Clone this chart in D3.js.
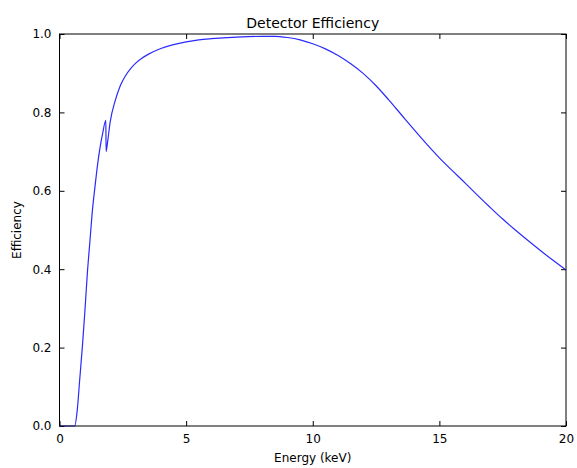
<!DOCTYPE html>
<html>
<head>
<meta charset="utf-8">
<script src="https://cdn.jsdelivr.net/npm/d3@7"></script>
<style>
	body { margin: 0; background: #fff; }
	svg text { font-family: "DejaVu Sans", sans-serif; fill: #000; }
	.domain { display: none; }
</style>
</head>
<body>
<div id="chart"></div>
<script>
// energy (keV) and detector efficiency
const energy = [0, 0.5, 0.6, 0.7, 0.8, 0.9, 1.0, 1.1, 1.2, 1.3, 1.4, 1.5, 1.6, 1.7, 1.83, 1.84, 1.9, 2.0, 2.2, 2.4, 2.6, 2.8, 3.0, 3.25, 3.5, 4.0, 4.5, 5.0, 5.5, 6.0, 7.0, 8.0, 8.5, 9.0, 9.5, 10.0, 10.5, 11.0, 11.5, 12.0, 12.5, 13.0, 13.5, 14.0, 14.5, 15.0, 15.5, 16.0, 16.5, 17.0, 17.5, 18.0, 18.5, 19.0, 19.5, 20.0],
	efficiency = [0, 0, 0, 0.04, 0.12, 0.2, 0.29, 0.39, 0.47, 0.55, 0.61, 0.665, 0.71, 0.745, 0.78, 0.70, 0.725, 0.775, 0.83, 0.868, 0.893, 0.911, 0.925, 0.938, 0.948, 0.963, 0.973, 0.98, 0.985, 0.988, 0.992, 0.994, 0.994, 0.991, 0.985, 0.975, 0.962, 0.945, 0.924, 0.899, 0.868, 0.832, 0.794, 0.756, 0.719, 0.684, 0.652, 0.621, 0.589, 0.558, 0.528, 0.5, 0.473, 0.447, 0.422, 0.398];

const xTicks = [0, 5, 10, 15, 20],
	yTicks = [0, 0.2, 0.4, 0.6, 0.8, 1.0];

var margin = {top: 34, right: 11, bottom: 42, left: 59.5},
	width = 577 - margin.left - margin.right,
	height = 468 - margin.top - margin.bottom;

var x = d3.scaleLinear().domain([0, 20]).range([0, width]);
var y = d3.scaleLinear().domain([0, 1]).range([height, 0]);

var svg = d3.select("#chart").append("svg")
	.attr("width", 577)
	.attr("height", 468);

var chart = svg.append("g")
	.attr("transform", "translate(" + margin.left + "," + margin.top + ")");

// matplotlib style: ticks pointing inward on every side
function styleAxis(g) {
	g.selectAll(".tick line").attr("stroke", "#000");
	g.selectAll(".tick text").style("font-size", "12px");
}

chart.append("g")
	.attr("transform", "translate(0," + height + ")")
	.call(d3.axisBottom(x).tickValues(xTicks).tickFormat(d3.format("d")).tickSizeInner(-5).tickPadding(8))
	.call(styleAxis);

chart.append("g")
	.call(d3.axisTop(x).tickValues(xTicks).tickSizeInner(-5).tickFormat(""))
	.call(styleAxis);

chart.append("g")
	.call(d3.axisLeft(y).tickValues(yTicks).tickFormat(d3.format(".1f")).tickSizeInner(-5).tickPadding(8))
	.call(styleAxis);

chart.append("g")
	.attr("transform", "translate(" + width + ",0)")
	.call(d3.axisRight(y).tickValues(yTicks).tickSizeInner(-5).tickFormat(""))
	.call(styleAxis);

var data = energy.map((e, i) => ({e: e, v: efficiency[i]}));

var line = d3.line()
	.x(d => x(d.e))
	.y(d => y(d.v))
	.curve(d3.curveMonotoneX);

chart.append("path")
	.datum(data)
	.attr("fill", "none")
	.attr("stroke", "#2a2aff")
	.attr("stroke-width", 1.2)
	.attr("d", line);

// frame
chart.append("rect")
	.attr("width", width)
	.attr("height", height)
	.attr("fill", "none")
	.attr("stroke", "#000")
	.attr("stroke-width", 1);

chart.append("text")
	.attr("x", width / 2)
	.attr("y", -6)
	.attr("text-anchor", "middle")
	.style("font-size", "14px")
	.text("Detector Efficiency");

chart.append("text")
	.attr("x", width / 2)
	.attr("y", height + 36)
	.attr("text-anchor", "middle")
	.style("font-size", "12px")
	.text("Energy (keV)");

chart.append("text")
	.attr("transform", "translate(" + (-39) + "," + (height / 2) + ") rotate(-90)")
	.attr("text-anchor", "middle")
	.style("font-size", "12px")
	.text("Efficiency");
</script>
</body>
</html>
